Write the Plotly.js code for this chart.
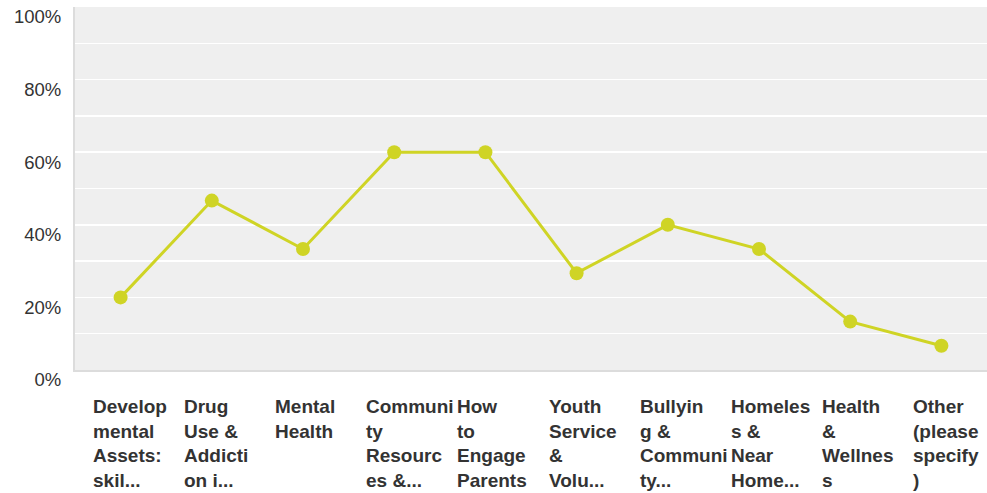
<!DOCTYPE html>
<html>
<head>
<meta charset="utf-8">
<script src="https://cdn.plot.ly/plotly-3.0.1.min.js"></script>
<style>
  html, body { margin: 0; padding: 0; background: #ffffff; }
  #chart { width: 987px; height: 493px; }
</style>
</head>
<body>
<div id="chart"></div>
<script>
// Categories (as displayed, truncated)
const categories = [
  "Developmental Assets: skil...",
  "Drug Use & Addiction i...",
  "Mental Health",
  "Community Resources &...",
  "How to Engage Parents",
  "Youth Service & Volu...",
  "Bullying & Community...",
  "Homeless & Near Home...",
  "Health & Wellness",
  "Other (please specify)"
];
// Wrapped tick labels as drawn under each category
const tickLabels = [
  "Develop<br>mental<br>Assets:<br>skil...",
  "Drug<br>Use &<br>Addicti<br>on i...",
  "Mental<br>Health",
  "Communi<br>ty<br>Resourc<br>es &...",
  "How<br>to<br>Engage<br>Parents",
  "Youth<br>Service<br>&<br>Volu...",
  "Bullyin<br>g &<br>Communi<br>ty...",
  "Homeles<br>s &<br>Near<br>Home...",
  "Health<br>&<br>Wellnes<br>s",
  "Other<br>(please<br>specify<br>)"
];
// Series values (fraction of respondents)
const values = [0.20, 0.4667, 0.3333, 0.60, 0.60, 0.2667, 0.40, 0.3333, 0.1333, 0.0667];
// Y tick values and labels
const yTickVals = [0, 0.2, 0.4, 0.6, 0.8, 1.0];
const yTickText = ["0%", "20%", "40%", "60%", "80%", "100%"];

const lineColor = "#cfd425";
const textColor = "#333333";

const trace = {
  type: "scatter",
  mode: "lines+markers",
  x: categories,
  y: values,
  line: { color: lineColor, width: 3 },
  marker: { color: lineColor, size: 14 },
  hoverinfo: "skip",
  cliponaxis: false
};

const annotations = tickLabels.map((t, i) => ({
  x: i - 0.33,
  xref: "x",
  y: -0.066,
  yref: "paper",
  xanchor: "left",
  yanchor: "top",
  align: "left",
  showarrow: false,
  text: "<b>" + t + "</b>",
  font: { family: "Liberation Sans, Arial, sans-serif", size: 19, color: textColor }
}));

const layout = {
  width: 987,
  height: 493,
  margin: { l: 75, r: 0, t: 7, b: 123 },
  paper_bgcolor: "#ffffff",
  plot_bgcolor: "#efefef",
  showlegend: false,
  xaxis: {
    type: "category",
    range: [-0.5, 9.5],
    showticklabels: false,
    showgrid: false,
    zeroline: false,
    showline: true,
    linecolor: "#dcdcdc",
    linewidth: 2,
    fixedrange: true
  },
  yaxis: {
    range: [0, 1],
    tickvals: yTickVals,
    ticktext: yTickText,
    showgrid: true,
    gridcolor: "#ffffff",
    gridwidth: 1.5,
    minor: { dtick: 0.1, tick0: 0, showgrid: true, gridcolor: "#ffffff", gridwidth: 1.5, ticks: "" },
    zeroline: false,
    showline: true,
    linecolor: "#dcdcdc",
    linewidth: 2,
    ticks: "",
    ticklabelstandoff: 8,
    ticklabelshift: 10,
    ticklabeloverflow: "allow",
    tickfont: { family: "Liberation Sans, Arial, sans-serif", size: 18.5, color: textColor },
    fixedrange: true
  },
  annotations: annotations
};

Plotly.newPlot("chart", [trace], layout, { displayModeBar: false, staticPlot: true });
</script>
</body>
</html>
